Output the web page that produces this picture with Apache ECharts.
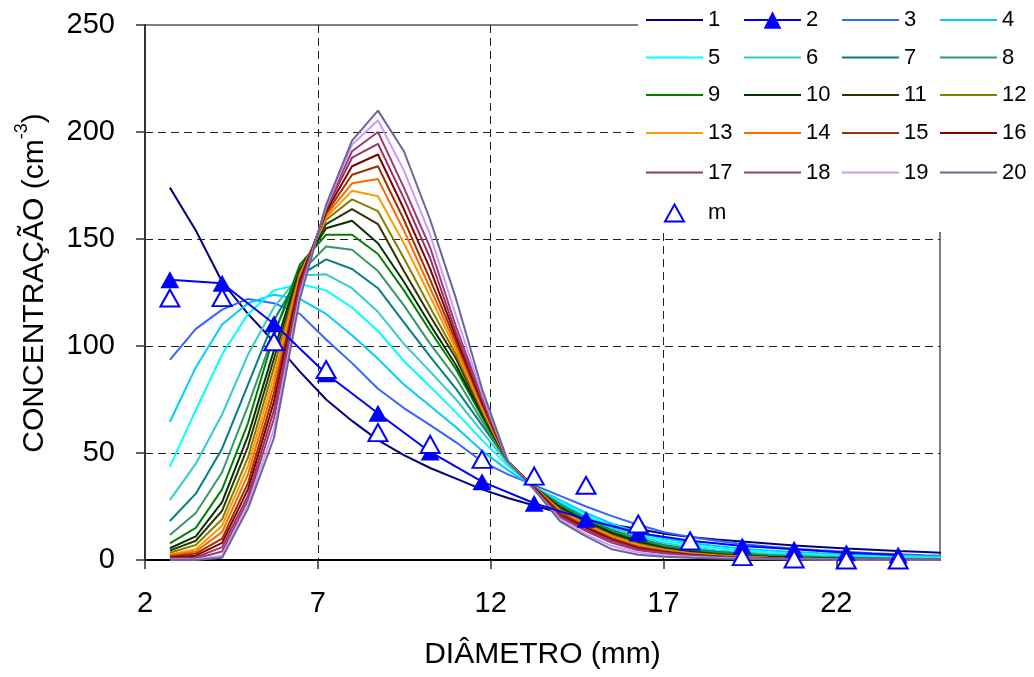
<!DOCTYPE html>
<html>
<head>
<meta charset="utf-8">
<script src="https://cdn.jsdelivr.net/npm/echarts@6/dist/echarts.min.js"></script>
<style>
  html, body { margin: 0; padding: 0; background: #ffffff; }
  #chart { width: 1034px; height: 677px; }
</style>
</head>
<body>
<div id="chart"></div>
<script>
// Diameter classes (mm) shared by the simulated distributions
const diameters = [2.72, 3.47, 4.23, 4.98, 5.73, 6.48, 7.24, 7.99, 8.74, 9.49, 10.25,
  11.00, 11.75, 12.50, 13.26, 14.01, 14.76, 15.51, 16.27, 17.02, 17.77, 18.52,
  19.28, 20.03, 20.78, 21.53, 22.29, 23.04, 23.79, 24.54, 25.30];

// Every other class: where series 2 and the measurements are given
const sampleDiameters = [2.72, 4.23, 5.73, 7.24, 8.74, 10.25, 11.75, 13.26, 14.76,
  16.27, 17.77, 19.28, 20.78, 22.29, 23.79];

// Concentration (cm^-3) for each simulated step
const dist1  = [174, 154, 130, 115, 102, 88, 75, 65, 56, 49, 43, 38, 33, 29, 25.5, 22, 19, 16.5, 14.5, 12.3, 10.8, 9.6, 8.6, 7.7, 6.8, 6.1, 5.4, 4.8, 4.2, 3.7, 3.2];
const dist2  = [131, 129.3, 110.4, 87, 68.6, 50.5, 36.6, 26.5, 19, 12.6, 9, 6.5, 5, 3.4, 2.3];
const dist3  = [93.5, 108, 117, 122, 120, 115, 103, 92, 80, 71, 63, 55, 46, 40, 35, 30, 25, 20.5, 16.5, 13, 10.8, 9, 7.5, 6.3, 5.3, 4.5, 3.8, 3.2, 2.7, 2.2, 1.8];
const dist4  = [64.6, 90, 110, 120, 124, 122, 115, 105, 94, 82, 72, 62, 51, 42, 34, 28, 22, 17, 13, 10, 8, 6.5, 5.3, 4.4, 3.7, 3.1, 2.6, 2.2, 1.9, 1.6, 1.4];
const dist5  = [43.6, 70, 96, 115, 126, 129, 126, 118, 107, 93, 81, 69, 56, 44, 34, 27, 21, 16, 12, 9, 7, 5.6, 4.5, 3.6, 3, 2.5, 2, 1.7, 1.4, 1.2, 1];
const dist6  = [28, 45, 68, 96, 118, 133, 133.5, 127, 116, 101, 88, 75, 60, 45, 34, 26.5, 20, 15, 11, 8, 6, 4.6, 3.6, 2.8, 2.2, 1.8, 1.4, 1.1, 0.9, 0.7, 0.6];
const dist7  = [18.2, 31, 52, 82, 112, 133, 140.5, 136, 127, 111, 95, 80, 63, 46, 34, 26, 19.5, 14, 10, 7, 5, 3.8, 2.9, 2.2, 1.7, 1.3, 1, 0.8, 0.6, 0.5, 0.4];
const dist8  = [11.7, 22, 41, 72, 106, 134, 146.5, 145, 135, 119, 101, 85, 65, 46, 34, 25.5, 19, 13.5, 9.5, 6.5, 4.5, 3.3, 2.5, 1.9, 1.4, 1.1, 0.8, 0.6, 0.5, 0.4, 0.3];
const dist9  = [7.8, 15, 33, 64, 105, 138, 152, 152, 143, 126, 107, 89, 67, 46, 34, 25, 18.5, 13, 9, 6, 4.2, 3, 2.2, 1.6, 1.2, 0.9, 0.7, 0.5, 0.4, 0.3, 0.3];
const dist10 = [5.5, 11, 27, 58, 98, 136, 155, 158.5, 148, 130, 110, 91, 68, 46, 34, 24.5, 18, 12.5, 8.5, 5.6, 3.8, 2.7, 1.9, 1.4, 1, 0.8, 0.6, 0.4, 0.3, 0.3, 0.2];
const dist11 = [4.4, 9, 23, 53, 94, 135, 157, 164, 157, 135, 114, 94, 69, 46, 34, 24, 17.5, 12, 8, 5.3, 3.5, 2.5, 1.7, 1.2, 0.9, 0.7, 0.5, 0.4, 0.3, 0.2, 0.2];
const dist12 = [3.4, 7, 19, 48, 90, 134, 159, 168.5, 163, 141, 118, 96, 70, 46, 34, 23.5, 17, 11.5, 7.5, 5, 3.3, 2.3, 1.6, 1.1, 0.8, 0.6, 0.4, 0.3, 0.3, 0.2, 0.2];
const dist13 = [2.6, 5, 16, 44, 86, 133, 160, 172.5, 170, 148, 123, 98, 71, 46, 34, 23, 16.5, 11, 7, 4.6, 3, 2.1, 1.5, 1, 0.7, 0.5, 0.4, 0.3, 0.2, 0.2, 0.1];
const dist14 = [2.2, 4, 13, 40, 82, 132, 161, 176, 178, 154, 127, 100, 72, 46, 34, 22.5, 16, 10.5, 6.5, 4.3, 2.8, 1.9, 1.3, 0.9, 0.6, 0.5, 0.3, 0.2, 0.2, 0.1, 0.1];
const dist15 = [1.6, 3, 10, 36, 78, 131, 162, 180, 184, 159, 131, 102, 73, 46, 34, 22, 15.5, 10, 6, 4, 2.6, 1.7, 1.2, 0.8, 0.6, 0.4, 0.3, 0.2, 0.2, 0.1, 0.1];
const dist16 = [1.2, 2, 8, 33, 74, 130, 163, 184, 189.5, 164, 136, 104, 74, 46, 33.5, 21, 15, 9.5, 5.5, 3.7, 2.4, 1.6, 1.1, 0.7, 0.5, 0.4, 0.3, 0.2, 0.1, 0.1, 0.1];
const dist17 = [0.8, 1.2, 6, 30, 70, 128, 164, 188, 194.5, 169, 141, 106, 75, 46, 33, 20.5, 14, 9, 5, 3.4, 2.2, 1.5, 1, 0.7, 0.5, 0.3, 0.2, 0.2, 0.1, 0.1, 0.1];
const dist18 = [0.5, 0.7, 4, 28, 66, 126, 165, 191, 200, 174, 146, 109, 76, 46, 33, 20, 13.5, 8, 4.5, 3, 2, 1.3, 0.9, 0.6, 0.4, 0.3, 0.2, 0.1, 0.1, 0.1, 0.1];
const dist19 = [0.2, 0.3, 2, 26, 61, 124, 165, 194, 205.5, 182, 152, 114, 78, 46, 33, 19, 12, 6.5, 3.5, 2.2, 1.5, 1, 0.7, 0.5, 0.4, 0.3, 0.2, 0.1, 0.1, 0.1, 0.1];
const dist20 = [0, 0, 1, 24, 57, 122, 166, 196, 210, 191, 159, 122, 80, 46, 33, 18, 11, 5, 2.5, 1.5, 1, 0.7, 0.5, 0.4, 0.3, 0.2, 0.2, 0.1, 0.1, 0.1, 0];

// Measured concentrations
const measured = [122.4, 122.6, 102, 89, 59.5, 54, 47, 39.2, 34.9, 16.8, 8.9, 1.6, 0.5, 0, 0];

const curveNames = ['1', '2', '3', '4', '5', '6', '7', '8', '9', '10',
  '11', '12', '13', '14', '15', '16', '17', '18', '19', '20'];
const measuredName = 'm';

const xTicks = [2, 7, 12, 17, 22];
const yTicks = [0, 50, 100, 150, 200, 250];

const curveColors = ['#000080', '#0000ff', '#3366ff', '#00ccff', '#00ffff', '#33cccc',
  '#008080', '#339966', '#008000', '#003300', '#333300', '#808000', '#ff9900',
  '#ff6600', '#993300', '#800000', '#993366', '#a03a6e', '#cc99ff', '#666699'];

const curveValues = [dist1, dist2, dist3, dist4, dist5, dist6, dist7, dist8, dist9, dist10,
  dist11, dist12, dist13, dist14, dist15, dist16, dist17, dist18, dist19, dist20];

const FONT = "'Liberation Sans', Arial, Helvetica, sans-serif";
const MARKER_SERIES = 1; // series "2" carries filled triangle markers

const series = curveValues.map((vals, i) => {
  const xs = i === MARKER_SERIES ? sampleDiameters : diameters;
  const s = {
    name: curveNames[i],
    type: 'line',
    data: vals.map((v, k) => [xs[k], v]),
    clip: false,
    lineStyle: { color: curveColors[i], width: 2 },
    itemStyle: { color: curveColors[i] },
    symbol: 'none',
    showSymbol: false,
    z: 2
  };
  if (i === MARKER_SERIES) {
    s.symbol = 'triangle';
    s.showSymbol = true;
    s.showAllSymbol = true;
    s.symbolSize = [19, 17];
    s.z = 3;
  }
  return s;
});

series.push({
  name: measuredName,
  type: 'scatter',
  data: measured.map((v, k) => [sampleDiameters[k], v]),
  symbol: 'triangle',
  symbolSize: [19, 17],
  itemStyle: { color: '#ffffff', borderColor: '#0000ff', borderWidth: 2, opacity: 1 },
  z: 4
});

// Legend: 4 columns x 5 rows of curves, then the measurement entry
const legendRows = [20, 57.5, 95, 133, 172.5, 211];
const legendCols = [645, 743, 841, 939];
const legendText = { fontSize: 22, color: '#000', fontFamily: FONT };
const legends = curveNames.map((name, i) => ({
  data: [name],
  left: legendCols[i % 4],
  top: legendRows[Math.floor(i / 4)] - 11,
  itemWidth: 57,
  itemHeight: 22,
  itemGap: 0,
  padding: 0,
  selectedMode: false,
  z: 100,
  itemStyle: i === MARKER_SERIES ? {} : { opacity: 0 },
  textStyle: legendText
}));
legends.push({
  data: [{ name: measuredName, icon: 'triangle' }],
  left: legendCols[0] + 19,
  top: legendRows[5] - 9,
  itemWidth: 19,
  itemHeight: 17,
  itemGap: 0,
  padding: 0,
  selectedMode: false,
  z: 100,
  itemStyle: { color: '#ffffff', borderColor: '#0000ff', borderWidth: 2 },
  textStyle: Object.assign({ padding: [0, 0, 0, 19] }, legendText)
});

const chart = echarts.init(document.getElementById('chart'), null, { renderer: 'canvas' });
chart.setOption({
  animation: false,
  backgroundColor: '#ffffff',
  textStyle: { fontFamily: FONT },
  grid: {
    left: 145, right: 94, top: 25, bottom: 117,
    show: true, borderColor: '#808080', borderWidth: 2,
    backgroundColor: 'transparent'
  },
  graphic: [{
    type: 'rect',
    left: 638, top: 0,
    shape: { width: 396, height: 232 },
    style: { fill: '#ffffff' },
    z: 90
  }],
  legend: legends,
  xAxis: {
    type: 'value',
    min: xTicks[0], max: 25, interval: xTicks[1] - xTicks[0],
    name: 'DIÂMETRO (mm)',
    nameLocation: 'middle',
    nameGap: 80,
    nameTextStyle: { fontSize: 30, color: '#000', fontFamily: FONT },
    axisLine: { show: true, onZero: false, lineStyle: { color: '#000', width: 2 } },
    axisTick: { show: true, inside: false, length: 9, lineStyle: { color: '#333', width: 1.5 }, customValues: xTicks },
    axisLabel: { margin: 29, fontSize: 29, color: '#000', fontFamily: FONT, customValues: xTicks },
    splitLine: { show: true, showMinLine: false, showMaxLine: false, lineStyle: { color: '#222', width: 1, type: [8, 5] } }
  },
  yAxis: {
    type: 'value',
    min: yTicks[0], max: yTicks[yTicks.length - 1], interval: yTicks[1] - yTicks[0],
    name: '{a|CONCENTRAÇÃO (cm}{s|-3}{a|)}',
    nameLocation: 'middle',
    nameGap: 88,
    nameTextStyle: {
      color: '#000', fontFamily: FONT, padding: [0, 0, 0, 19],
      rich: {
        a: { fontSize: 30, lineHeight: 44, color: '#000', fontFamily: FONT },
        s: { fontSize: 18, lineHeight: 10, verticalAlign: 'top', color: '#000', fontFamily: FONT }
      }
    },
    axisLine: { show: true, lineStyle: { color: '#333', width: 2 } },
    axisTick: { show: true, inside: false, length: 9, lineStyle: { color: '#333', width: 1.5 } },
    axisLabel: { margin: 30, fontSize: 29, color: '#000', fontFamily: FONT },
    splitLine: { show: true, showMinLine: false, showMaxLine: false, lineStyle: { color: '#222', width: 1, type: [8, 5] } }
  },
  series: series
});
</script>
</body>
</html>
